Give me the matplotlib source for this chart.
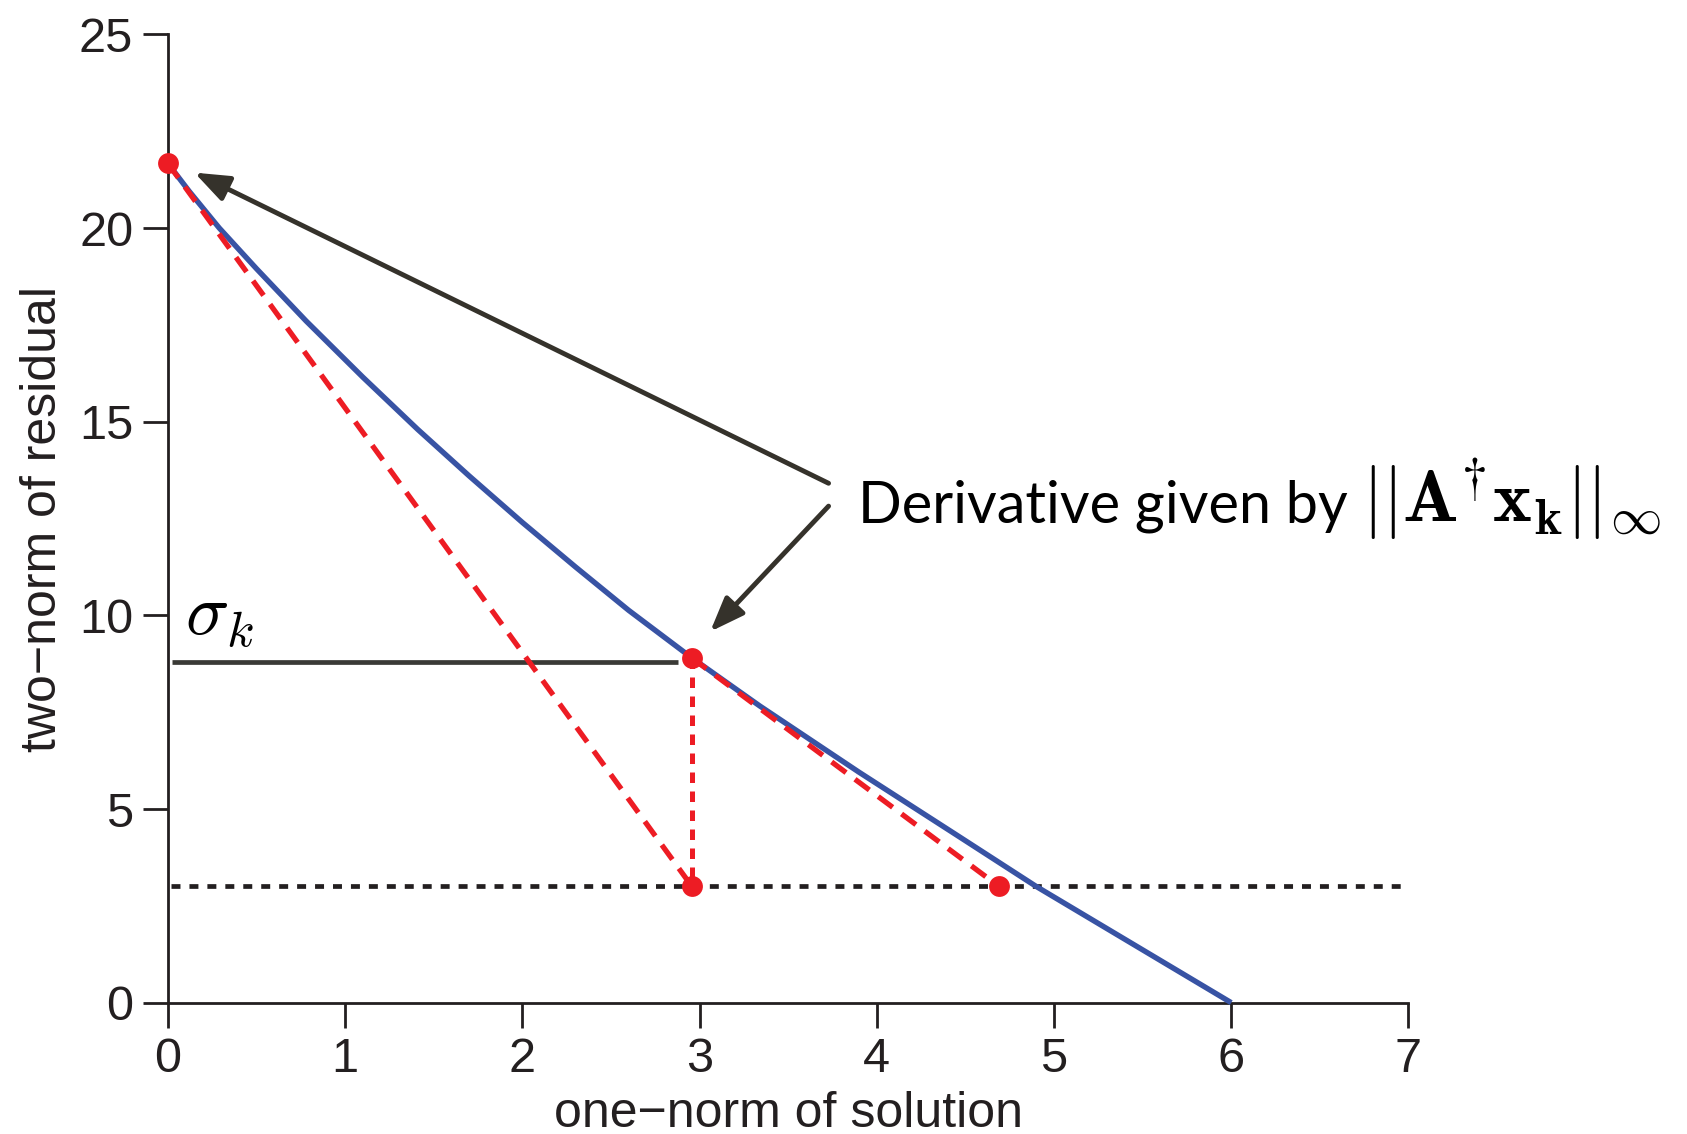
import matplotlib
matplotlib.use('Agg')
import matplotlib.pyplot as plt

plt.rcParams['font.family'] = ['Liberation Sans', 'DejaVu Sans']
plt.rcParams['mathtext.fontset'] = 'cm'

# ---- data ----
curve_x = [0.0, 0.12, 0.29, 0.5, 0.78, 1.1, 1.41, 1.7, 2.0, 2.3, 2.6, 2.957,
           3.34, 3.9, 4.45, 4.9, 5.45, 6.0]
curve_y = [21.67, 20.95, 20.0, 18.95, 17.6, 16.15, 14.8, 13.6, 12.4, 11.25, 10.13, 8.9,
           7.66, 5.95, 4.33, 3.0, 1.5, 0.0]

point_x = [0.0, 2.957, 2.957, 4.69]
point_y = [21.67, 8.9, 3.0, 3.0]

tangent1_x = [0.0, 2.957]
tangent1_y = [21.67, 3.0]
tangent2_x = [2.957, 4.69]
tangent2_y = [8.9, 3.0]
drop_x = [2.957, 2.957]
drop_y = [8.9, 3.0]
level_x = [0.02, 7.0]
level_y = [3.0, 3.0]
sigma_x = [0.025, 2.88]
sigma_y = [8.8, 8.8]

x_ticks = [0, 1, 2, 3, 4, 5, 6, 7]
y_ticks = [0, 5, 10, 15, 20, 25]

x_label = 'one\u2212norm of solution'
y_label = 'two\u2212norm of residual'

# ---- colours ----
BLUE = '#3853a4'
RED = '#ed1c24'
DARK = '#231f20'
ARROW = '#35322b'

fig = plt.figure(figsize=(16.87, 11.34), dpi=100)
ax = fig.add_axes([0.0995, 0.1158, 0.7354, 0.8539])
ax.set_xlim(0, 7)
ax.set_ylim(0, 25)

for s in ['top', 'right']:
    ax.spines[s].set_visible(False)
for s in ['left', 'bottom']:
    ax.spines[s].set_linewidth(2.0)
    ax.spines[s].set_color(DARK)

ax.set_xticks(x_ticks)
ax.set_yticks(y_ticks)
ax.tick_params(direction='out', length=18, width=2.0, color=DARK,
               labelsize=35, labelcolor=DARK, pad=7)

ax.set_xlabel(x_label, fontsize=36, color=DARK, va='center')
ax.xaxis.set_label_coords(0.5, -0.115)
ax.set_ylabel(y_label, fontsize=36, color=DARK, va='center')
ax.yaxis.set_label_coords(-0.1006, 0.5)

# horizontal dotted level line
ax.plot(level_x, level_y, color=DARK, lw=3.4, linestyle=(0, (1.9, 1.9)),
        dash_capstyle='butt', zorder=2, clip_on=False)

# blue curve
ax.plot(curve_x, curve_y, color=BLUE, lw=3.9, zorder=3, clip_on=False,
        solid_capstyle='butt', solid_joinstyle='round')

# red dashed tangents
ax.plot(tangent1_x, tangent1_y, color=RED, lw=3.8, linestyle=(0, (3.4, 2.1)),
        zorder=4, clip_on=False)
ax.plot(tangent2_x, tangent2_y, color=RED, lw=3.8, linestyle=(0, (3.4, 2.1)),
        zorder=4, clip_on=False)
# red dotted vertical
ax.plot(drop_x, drop_y, color=RED, lw=3.6, linestyle=(0, (2.1, 1.7)),
        zorder=4, clip_on=False)

# sigma_k level line
ax.plot(sigma_x, sigma_y, color='#3a3a36', lw=3.4, zorder=3,
        solid_capstyle='butt')
ax.text(0.098, 9.49, r'$\sigma_k$', fontsize=52, color='black',
        ha='left', va='baseline')

# red points
ax.plot(point_x, point_y, 'o', color=RED, markersize=15, zorder=6,
        clip_on=False, markeredgewidth=0)

# arrows
arrow_style = '-|>,head_length=1.05,head_width=0.4'
ax.annotate('', xy=(0.15, 21.43), xytext=(3.728, 13.41),
            arrowprops=dict(arrowstyle=arrow_style, lw=3.5, color=ARROW,
                            mutation_scale=20, shrinkA=0, shrinkB=0),
            zorder=5)
ax.annotate('', xy=(3.06, 9.58), xytext=(3.728, 12.82),
            arrowprops=dict(arrowstyle=arrow_style, lw=3.5, color=ARROW,
                            mutation_scale=20, shrinkA=0, shrinkB=0),
            zorder=5)

# annotation text
ax.text(3.893, 12.4, 'Derivative given by', family=['Lato', 'DejaVu Sans'],
        fontsize=41.5, color='black', ha='left', va='baseline')
ax.text(6.74, 12.4, r'$||\mathbf{A}^{\dagger}\mathbf{x_k}||_{\infty}$',
        fontsize=53, color='black', ha='left', va='baseline')

fig.savefig('out.png', dpi=100)
